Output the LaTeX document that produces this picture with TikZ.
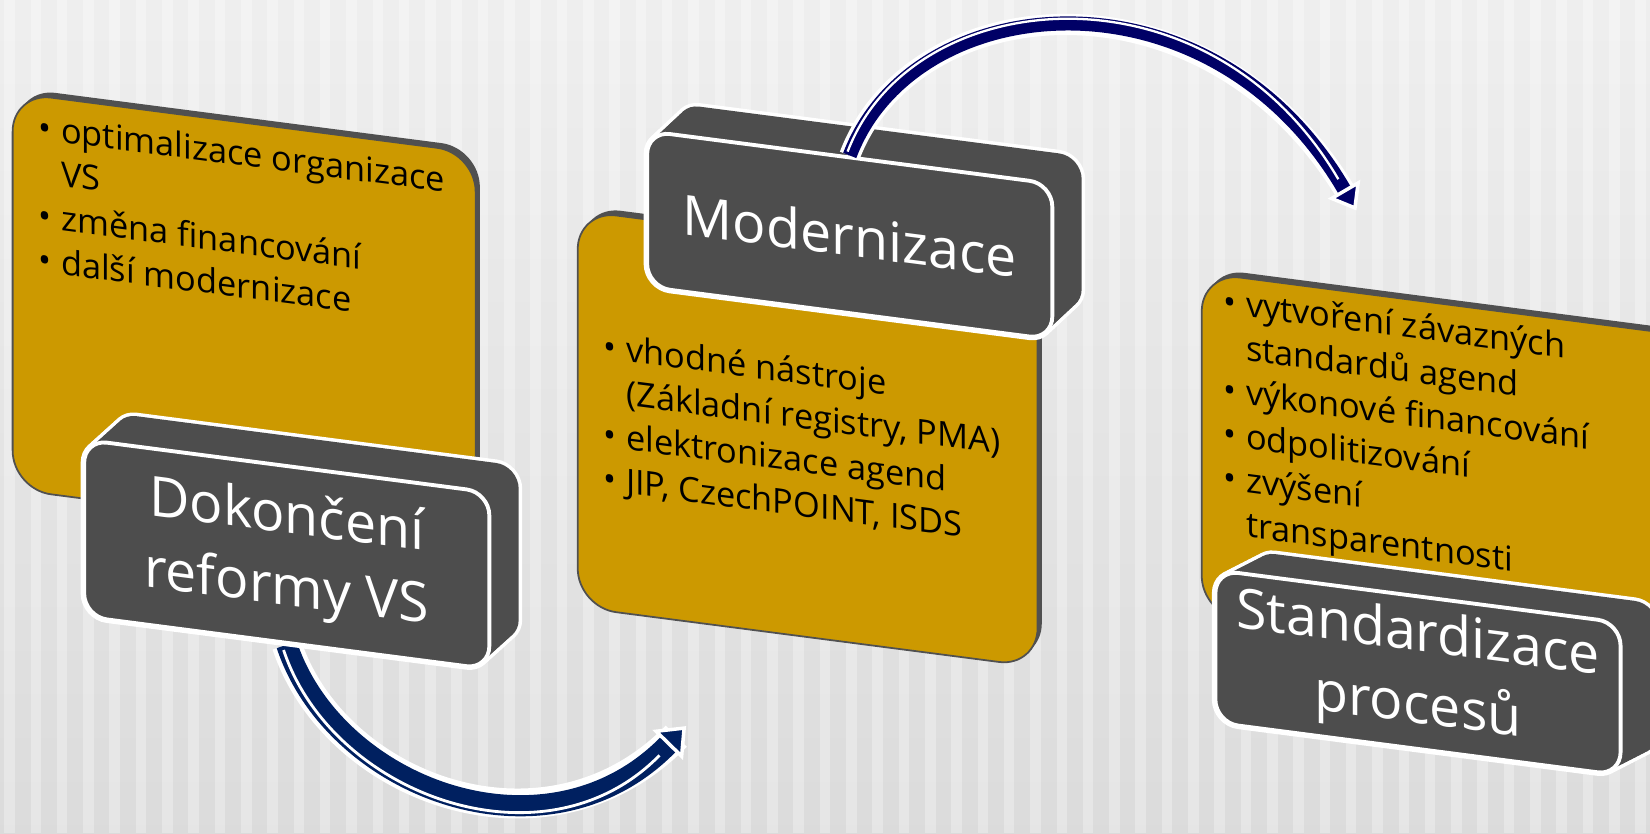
\documentclass[tikz,border=0pt]{standalone}
\usepackage{fontspec}
\setmainfont{Open Sans}
\usetikzlibrary{arrows.meta,calc}

\definecolor{goldbox}{HTML}{CC9900}
\definecolor{goldedge}{HTML}{505050}
\definecolor{darkbox}{HTML}{4D4D4D}
\definecolor{arrowlow}{HTML}{002060}
\definecolor{arrowtop}{HTML}{000066}

\pgfdeclarelayer{bg}
\pgfdeclarelayer{under}
\pgfsetlayers{bg,under,main}

\tikzset{
  goldpanel/.style={fill=goldbox, draw=goldedge, line width=1pt, rounded corners=22pt},
  goldshadow/.style={fill=goldedge, rounded corners=22pt},
  blockrim/.style={draw=white, line width=4pt, rounded corners=13pt},
  blockside/.style={fill=darkbox, rounded corners=13pt},
  titlebox/.style={fill=darkbox, draw=white, line width=2.2pt, rounded corners=13pt,
    text=white, align=center, inner sep=0pt, transform shape,
    font=\fontsize{31.5}{41}\selectfont},
  listtext/.style={anchor=north west, align=left, inner sep=0pt, transform shape,
    font=\fontsize{19.5}{25}\selectfont},
}
\newcommand{\bul}{\makebox[13pt][l]{\textbullet}}
\newcommand{\ind}{\hspace*{13pt}}

\begin{document}
\begin{tikzpicture}[x=0.021cm, y=-0.021cm]
    \useasboundingbox (0,0) rectangle (1568,792);

    % Background with stripes
    \begin{pgfonlayer}{bg}
    \shade[top color=gray!13, middle color=gray!4, bottom color=gray!28] (0,0) rectangle (1568,792);
    \foreach \i in {0,...,63}
        \fill[white, opacity=0.3] (\i*25+4,0) rectangle ++(10,792);
    \end{pgfonlayer}

    % Dokonceni reformy VS
    \begin{scope}[shift={(12,88)}, yslant=-0.13]
        \fill[goldshadow] (4,-5) rectangle (444,372);
        \draw[goldpanel] (0,0) rectangle (440,377);
        \node[listtext] (list1) at (24,16) {\bul optimalizace organizace\\
            \ind VS\\ \bul změna financování\\ \bul další modernizace};
        \foreach \k in {0,...,9}
            \draw[blockrim] (68+3.1*\k,321-3.2*\k) rectangle ++(385,168);
        \foreach \k in {0,...,9}
            \fill[blockside] (68+3.1*\k,321-3.2*\k) rectangle ++(385,168);
        \node[titlebox, minimum width={385*0.021cm}, minimum height={168*0.021cm}]
            (dokonceni) at (260.5,405) {Dokončení\\reformy VS};
    \end{scope}

    % Modernizace
    \begin{scope}[shift={(549,200)}, yslant=-0.13]
        \fill[goldshadow] (4,-5) rectangle (441,372);
        \draw[goldpanel] (0,0) rectangle (437,377);
        \node[listtext] (list2) at (24,112) {\bul vhodné nástroje\\
            \ind (Základní registry, PMA)\\ \bul elektronizace agend\\
            \bul JIP, CzechPOINT, ISDS};
        \foreach \k in {0,...,9}
            \draw[blockrim] (66+3.1*\k,-84-3.3*\k) rectangle ++(385,148);
        \foreach \k in {0,...,9}
            \fill[blockside] (66+3.1*\k,-84-3.3*\k) rectangle ++(385,148);
        \node[titlebox, minimum width={385*0.021cm}, minimum height={148*0.021cm}]
            (modernizace) at (258.5,-10) {Modernizace};
    \end{scope}

    % Standardizace procesu
    \begin{scope}[shift={(1142,259)}, yslant=-0.13]
        \fill[goldshadow] (4,-5) rectangle (484,320);
        \draw[goldpanel] (0,0) rectangle (480,325);
        \node[listtext] (list3) at (20,11) {\bul vytvoření závazných\\
            \ind standardů agend\\ \bul výkonové financování\\
            \bul odpolitizování\\ \bul zvýšení\\ \ind transparentnosti};
        \foreach \k in {0,...,9}
            \draw[blockrim] (13+3.9*\k,281-2.5*\k) rectangle ++(385,145);
        \foreach \k in {0,...,9}
            \fill[blockside] (13+3.9*\k,281-2.5*\k) rectangle ++(385,145);
        \node[titlebox, minimum width={385*0.021cm}, minimum height={145*0.021cm}]
            (standardizace) at (205.5,353.5) {Standardizace\\procesů};
    \end{scope}

    % Arrow ends
    \coordinate (tip1) at (652,690);
    \coordinate (tip2) at (1289,200);

    % Lower arrow, behind the first box
    \begin{pgfonlayer}{under}
    \draw[white, line width=17pt, shorten >=8pt]
        (dokonceni.south) .. controls (318,750) and (520,825) .. (tip1);
    \draw[arrowlow, line width=12pt,
        -{Triangle[length=15pt, width=24pt, line width=2pt, color=white, fill=arrowlow]}]
        (dokonceni.south) .. controls (318,750) and (520,825) .. (tip1);
    \draw[white, line width=1.6pt, shorten >=19pt, transform canvas={shift={(-1.8pt,-3pt)}}]
        (dokonceni.south) .. controls (318,750) and (520,825) .. (tip1);
    \end{pgfonlayer}

    % Upper arrow
    \draw[white, line width=12pt, shorten >=8pt]
        (modernizace.north) .. controls (868,-12) and (1150,-38) .. (tip2);
    \draw[arrowtop, line width=8pt,
        -{Triangle[length=14pt, width=21pt, line width=2pt, color=white, fill=arrowtop]}]
        (modernizace.north) .. controls (868,-12) and (1150,-38) .. (tip2);
    \draw[white, line width=1.3pt, shorten >=18pt, transform canvas={shift={(-1.2pt,2.2pt)}}]
        (modernizace.north) .. controls (868,-12) and (1150,-38) .. (tip2);
\end{tikzpicture}
\end{document}
